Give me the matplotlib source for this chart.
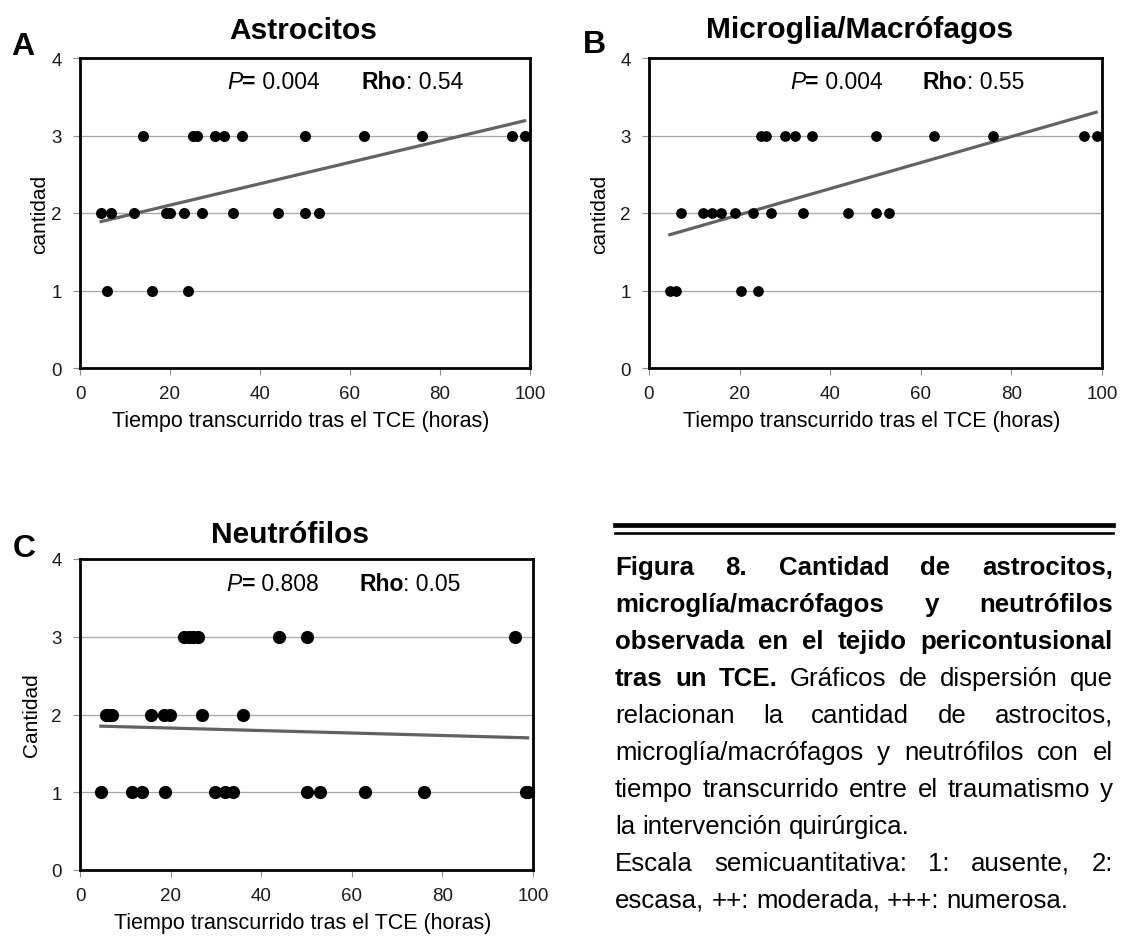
import matplotlib
matplotlib.use("Agg")
import matplotlib.pyplot as plt
from matplotlib.lines import Line2D

plt.rcParams['font.family'] = ['Liberation Sans', 'DejaVu Sans']

# --- datos: horas tras el TCE / cantidad (escala 1-3) ---
astro_t = [14, 25, 26, 30, 32, 36, 50, 63, 76, 96, 98.8,
           4.7, 6.8, 12, 19, 20, 23, 27, 34, 44, 50, 53,
           6, 16, 24]
astro_q = [3, 3, 3, 3, 3, 3, 3, 3, 3, 3, 3,
           2, 2, 2, 2, 2, 2, 2, 2, 2, 2, 2,
           1, 1, 1]
astro_fit_x = [4.7, 98.8]
astro_fit_y = [1.89, 3.19]

micro_t = [24.8, 25.9, 30, 32.2, 36, 50, 63, 76, 96, 99,
           7, 12, 14, 16, 19, 23, 27, 34, 44, 50, 53,
           4.6, 5.9, 20.2, 24]
micro_q = [3, 3, 3, 3, 3, 3, 3, 3, 3, 3,
           2, 2, 2, 2, 2, 2, 2, 2, 2, 2, 2,
           1, 1, 1, 1]
micro_fit_x = [4.6, 98.7]
micro_fit_y = [1.72, 3.30]

neutro_t = [23, 24, 25, 26, 44, 50, 96,
            5.8, 6.4, 7, 15.7, 18.5, 19.8, 27, 36,
            4.6, 11.5, 13.7, 18.7, 29.8, 31.9, 33.8, 50, 53, 63, 76, 98.5, 99]
neutro_q = [3, 3, 3, 3, 3, 3, 3,
            2, 2, 2, 2, 2, 2, 2, 2,
            1, 1, 1, 1, 1, 1, 1, 1, 1, 1, 1, 1, 1]
neutro_fit_x = [4.6, 98.8]
neutro_fit_y = [1.85, 1.70]

x_ticks = [0, 20, 40, 60, 80, 100]
y_ticks = [0, 1, 2, 3, 4]

W, H = 1121, 937
fig = plt.figure(figsize=(W / 100, H / 100), dpi=100)
rend = fig.canvas.get_renderer()


def px(x, y):
    return x / W, 1 - y / H


def box(l, t, r, b):
    return [l / W, 1 - b / H, (r - l) / W, (b - t) / H]


def runs(x0, y0, parts, size):
    # texto con trozos de distinto estilo, uno detras de otro (coords. en pixeles)
    x = x0
    for s, style, weight in parts:
        t = fig.text(x / W, 1 - y0 / H, s, fontsize=size, fontstyle=style,
                     fontweight=weight, va='baseline', ha='left')
        x += t.get_window_extent(rend).width


def panel(rect, t, q, fx, fy, dot, title, tx, ty, letter, lx, ly,
          ylab, yx, xlab_y, p_txt, rho_txt, stat_x, stat_y):
    ax = fig.add_axes(box(*rect))
    ax.set_xlim(0, 100)
    ax.set_ylim(0, 4)
    ax.set_xticks(x_ticks)
    ax.set_yticks(y_ticks)
    ax.yaxis.grid(True, color='#a6a6a6', lw=0.9)
    ax.set_axisbelow(True)
    for s in ax.spines.values():
        s.set_linewidth(2)
        s.set_color('black')
    ax.tick_params(axis='both', length=5, width=0.8, color='#8c8c8c',
                   labelsize=13.5, labelcolor='#1a1a1a')
    ax.tick_params(axis='x', pad=7)
    ax.tick_params(axis='y', pad=8)
    ax.plot(fx, fy, color='#626262', lw=2.3, zorder=2)
    ax.scatter(t, q, s=dot, color='black', zorder=3, clip_on=False)

    l, top, r, b = rect
    fig.text(*px(tx, ty), title, fontsize=21.5, fontweight='bold',
             ha='center', va='baseline')
    fig.text(*px(lx, ly), letter, fontsize=23, fontweight='bold',
             ha='center', va='baseline')
    fig.text(*px(yx, (top + b) / 2), ylab, fontsize=15, rotation=90,
             ha='center', va='center')
    fig.text(*px((l + r) / 2 - 4, xlab_y),
             'Tiempo transcurrido tras el TCE (horas)', fontsize=15.5,
             ha='center', va='center')

    # P y Rho
    sx, sy = ax.transData.transform((stat_x[0], stat_y))
    runs(sx, H - sy, [('P', 'italic', 'normal'), ('=', 'normal', 'bold'),
                      (' ' + p_txt, 'normal', 'normal')], 16.5)
    sx, sy = ax.transData.transform((stat_x[1], stat_y))
    runs(sx, H - sy, [('Rho', 'normal', 'bold'),
                      (': ' + rho_txt, 'normal', 'normal')], 16.5)
    return ax


panel((80, 59, 530, 369), astro_t, astro_q, astro_fit_x, astro_fit_y, 48,
      'Astrocitos', 303, 39, 'A', 23, 55, 'cantidad', 40, 421,
      '0.004', '0.54', (32.7, 62.5), 3.61)
panel((649, 59, 1102, 369), micro_t, micro_q, micro_fit_x, micro_fit_y, 45,
      'Microglia/Macrófagos', 860, 38, 'B', 594, 53, 'cantidad', 600, 421,
      '0.004', '0.55', (31.1, 60.4), 3.61)
panel((80, 560, 533, 871), neutro_t, neutro_q, neutro_fit_x, neutro_fit_y, 72,
      'Neutrófilos', 290, 543, 'C', 24, 557, 'Cantidad', 32, 924,
      '0.808', '0.05', (32.3, 61.6), 3.6)

# --- pie de figura, justificado ---
cap_left, cap_right = 615, 1113
fig.add_artist(Line2D([cap_left / W, cap_right / W], [1 - 526 / H] * 2,
                      transform=fig.transFigure, color='black', lw=3.4))
fig.add_artist(Line2D([cap_left / W, cap_right / W], [1 - 534 / H] * 2,
                      transform=fig.transFigure, color='black', lw=1.9))

caption = [
    ('Figura 8. Cantidad de astrocitos,', '', True),
    ('microglía/macrófagos y neutrófilos', '', True),
    ('observada en el tejido pericontusional', '', True),
    ('tras un TCE.', 'Gráficos de dispersión que', True),
    ('', 'relacionan la cantidad de astrocitos,', True),
    ('', 'microglía/macrófagos y neutrófilos con el', True),
    ('', 'tiempo transcurrido entre el traumatismo y', True),
    ('', 'la intervención quirúrgica.', False),
    ('', 'Escala semicuantitativa: 1: ausente, 2:', True),
    ('', 'escasa, ++: moderada, +++: numerosa.', False),
]
cap_size = 18.6
space = 0.278 * cap_size * 100 / 72
for i, (bold, normal, justify) in enumerate(caption):
    y = 1 - (575 + 37 * i) / H
    words = [(w, 'bold') for w in bold.split()] + \
            [(w, 'normal') for w in normal.split()]
    txts = [fig.text(0, y, w, fontsize=cap_size, fontweight=wt, va='baseline')
            for w, wt in words]
    widths = [t.get_window_extent(rend).width for t in txts]
    gap = space
    if justify and len(words) > 1:
        gap = (cap_right - cap_left - sum(widths)) / (len(words) - 1)
    x = cap_left
    for t, wd in zip(txts, widths):
        t.set_x(x / W)
        x += wd + gap

fig.savefig('out.png', dpi=100)
